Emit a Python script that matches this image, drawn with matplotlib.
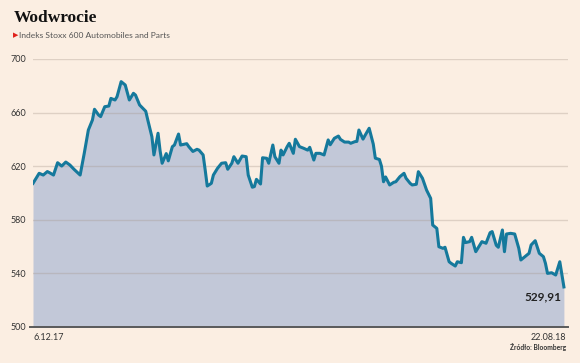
import numpy as np
import matplotlib.pyplot as plt

# ---- data: days since 6.12.2017, index level ----
days = [0, 1, 3, 5, 7, 8, 10, 12, 14, 16, 18, 20, 23, 25, 27, 29, 30, 32, 33, 35,
        37, 38, 40, 41, 43, 45, 46, 47, 49, 50, 52, 55, 56, 58, 59, 61, 62, 63, 65, 66,
        68, 69, 71, 72, 75, 76, 78, 80, 81, 83, 84, 85, 87, 88, 90, 92, 94, 95, 97, 98,
        100, 102, 104, 105, 107, 108, 109, 111, 112, 114, 115, 117, 118, 120, 121, 122, 124, 125, 127, 128,
        130, 132, 134, 135, 137, 138, 140, 142, 144, 145, 147, 149, 150, 152, 154, 155, 157, 158, 159, 161,
        162, 164, 166, 167, 169, 170, 171, 172, 174, 176, 177, 179, 181, 182, 184, 185, 187, 188, 190, 192,
        194, 195, 197, 198, 200, 201, 203, 204, 206, 207, 209, 210, 211, 213, 214, 216, 218, 219, 221, 223,
        224, 226, 227, 229, 230, 231, 233, 235, 237, 238, 240, 242, 243, 245, 247, 249, 250, 251, 253, 255,
        257, 259]
values = [607.2, 609.7, 614.7, 613.4, 616.0, 615.2, 613.4, 622.6, 620.1, 623.1, 620.9, 617.7, 613.4, 629.6, 647.0, 654.5, 662.5, 658.2, 657.0, 664.4,
          664.9, 670.6, 669.4, 671.9, 683.1, 680.6, 675.0, 669.4, 674.4, 673.1, 665.7, 661.0, 654.5, 642.0, 628.4, 644.6, 631.5, 622.2, 629.4, 624.0,
          634.6, 635.8, 644.0, 635.8, 636.8, 634.6, 631.0, 632.6, 632.0, 628.4, 617.2, 605.2, 607.2, 613.4, 618.4, 622.2, 622.6, 617.7, 622.2, 627.1,
          622.2, 627.6, 627.1, 613.4, 604.3, 604.8, 610.2, 606.7, 626.3, 625.9, 622.2, 635.8, 627.1, 622.2, 632.0, 628.4, 634.6, 637.1, 629.6, 640.1,
          634.6, 633.4, 632.0, 634.1, 624.6, 629.6, 629.6, 628.4, 639.6, 636.0, 640.8, 642.5, 640.0, 638.0, 638.0, 637.1, 638.3, 638.5, 647.0, 640.2,
          643.0, 648.3, 636.5, 626.0, 625.0, 620.0, 608.4, 612.0, 606.0, 608.0, 608.4, 612.2, 614.7, 611.0, 607.2, 606.0, 606.5, 615.9, 611.0, 602.2,
          596.0, 576.1, 573.6, 559.9, 558.7, 559.5, 548.7, 547.5, 545.5, 548.7, 548.0, 566.9, 563.0, 563.7, 566.9, 556.2, 561.2, 563.7, 562.5, 570.4,
          571.2, 561.0, 559.5, 572.4, 556.2, 569.4, 569.9, 569.4, 558.7, 550.0, 552.5, 555.0, 561.2, 564.4, 555.0, 552.5, 547.5, 540.0, 540.5, 538.8,
          548.7, 529.91]
yticks = [500, 540, 580, 620, 660, 700]

bg = '#fbeee2'
fig = plt.figure(figsize=(5.8, 3.63), dpi=100, facecolor=bg)
ax = fig.add_axes([33/580, 1-327/363, 535/580, 268/363])
ax.set_facecolor(bg)

ax.fill_between(days, 500, values, color='#c2c8d8', lw=0, zorder=1)
for t in yticks[1:]:
    ax.axhline(t, color='#a89a8e', alpha=0.35, lw=1, zorder=2)
ax.plot(days, values, color='#15799c', lw=2.2, solid_joinstyle='round', zorder=3)
ax.axhline(500, color='#5a5a5a', lw=1.4, zorder=4, xmin=-0.006, clip_on=False)

ax.set_xlim(0, 261)
ax.set_ylim(500, 700)
for s in ax.spines.values():
    s.set_visible(False)
ax.set_xticks([])
ax.set_yticks(yticks)
ax.set_yticklabels([str(t) for t in yticks], family='Lato', fontsize=6.5, color='#333333')
ax.tick_params(axis='y', length=0, pad=5)

ax.text(days[-1] - 1, values[-1] - 3, '529,91', family='Lato', fontweight='bold',
        fontsize=8.5, color='#222222', ha='right', va='top')

fig.text(14/580, 1-22/363, 'Wodwrocie', family='Liberation Serif', fontweight='bold',
         fontsize=12.5, color='#111111', va='baseline')
fig.text(13/580, 1-35/363, '\u25b6', family='DejaVu Sans', fontsize=5, color='#e0201b', va='center')
fig.text(19/580, 1-35/363, 'Indeks Stoxx 600 Automobiles and Parts', family='Lato',
         fontsize=6.1, color='#555555', va='center')
fig.text(33/580, 1-337/363, '6.12.17', family='Lato', fontsize=6.5, color='#333333', va='center')
fig.text(566/580, 1-337/363, '22.08.18', family='Lato', fontsize=6.5, color='#333333', va='center', ha='right')
fig.text(566/580, 1-347/363, 'Źródło: Bloomberg', family='Lato', fontweight='bold',
         fontsize=4.8, color='#333333', va='center', ha='right')

plt.savefig('out.png', dpi=100, facecolor=bg)
